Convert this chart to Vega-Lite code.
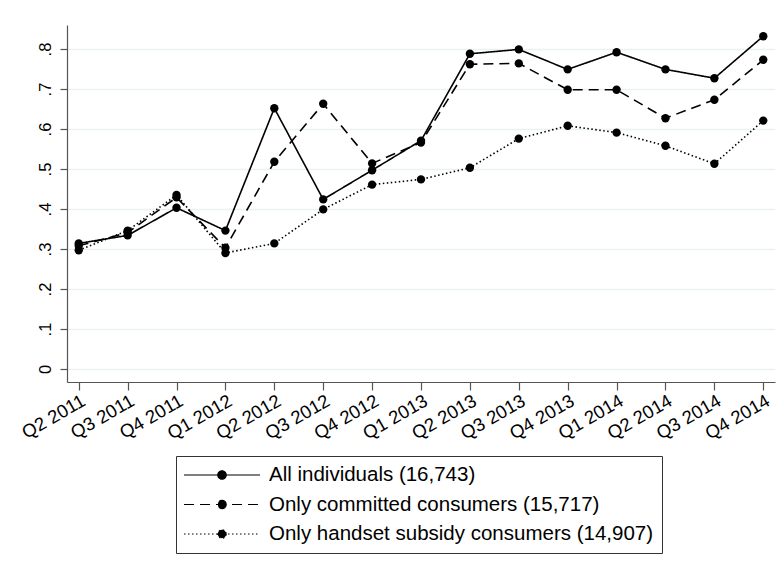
{
  "$schema": "https://vega.github.io/schema/vega-lite/v6.json",
  "autosize": "none",
  "width": 708,
  "height": 357,
  "padding": {"left": 67, "top": 25, "right": 5, "bottom": 191},
  "background": "white",
  "config": {
    "view": {"stroke": null},
    "font": "Liberation Sans"
  },
  "data": {
    "values": [
      {"quarter": "Q2 2011", "series": "All individuals (16,743)", "share": 0.314},
      {"quarter": "Q3 2011", "series": "All individuals (16,743)", "share": 0.334},
      {"quarter": "Q4 2011", "series": "All individuals (16,743)", "share": 0.403},
      {"quarter": "Q1 2012", "series": "All individuals (16,743)", "share": 0.346},
      {"quarter": "Q2 2012", "series": "All individuals (16,743)", "share": 0.652},
      {"quarter": "Q3 2012", "series": "All individuals (16,743)", "share": 0.424},
      {"quarter": "Q4 2012", "series": "All individuals (16,743)", "share": 0.497},
      {"quarter": "Q1 2013", "series": "All individuals (16,743)", "share": 0.571},
      {"quarter": "Q2 2013", "series": "All individuals (16,743)", "share": 0.788},
      {"quarter": "Q3 2013", "series": "All individuals (16,743)", "share": 0.799},
      {"quarter": "Q4 2013", "series": "All individuals (16,743)", "share": 0.749},
      {"quarter": "Q1 2014", "series": "All individuals (16,743)", "share": 0.792},
      {"quarter": "Q2 2014", "series": "All individuals (16,743)", "share": 0.749},
      {"quarter": "Q3 2014", "series": "All individuals (16,743)", "share": 0.727},
      {"quarter": "Q4 2014", "series": "All individuals (16,743)", "share": 0.832},
      {"quarter": "Q2 2011", "series": "Only committed consumers (15,717)", "share": 0.308},
      {"quarter": "Q3 2011", "series": "Only committed consumers (15,717)", "share": 0.341},
      {"quarter": "Q4 2011", "series": "Only committed consumers (15,717)", "share": 0.429},
      {"quarter": "Q1 2012", "series": "Only committed consumers (15,717)", "share": 0.303},
      {"quarter": "Q2 2012", "series": "Only committed consumers (15,717)", "share": 0.518},
      {"quarter": "Q3 2012", "series": "Only committed consumers (15,717)", "share": 0.663},
      {"quarter": "Q4 2012", "series": "Only committed consumers (15,717)", "share": 0.514},
      {"quarter": "Q1 2013", "series": "Only committed consumers (15,717)", "share": 0.566},
      {"quarter": "Q2 2013", "series": "Only committed consumers (15,717)", "share": 0.762},
      {"quarter": "Q3 2013", "series": "Only committed consumers (15,717)", "share": 0.764},
      {"quarter": "Q4 2013", "series": "Only committed consumers (15,717)", "share": 0.698},
      {"quarter": "Q1 2014", "series": "Only committed consumers (15,717)", "share": 0.698},
      {"quarter": "Q2 2014", "series": "Only committed consumers (15,717)", "share": 0.627},
      {"quarter": "Q3 2014", "series": "Only committed consumers (15,717)", "share": 0.673},
      {"quarter": "Q4 2014", "series": "Only committed consumers (15,717)", "share": 0.773},
      {"quarter": "Q2 2011", "series": "Only handset subsidy consumers (14,907)", "share": 0.297},
      {"quarter": "Q3 2011", "series": "Only handset subsidy consumers (14,907)", "share": 0.346},
      {"quarter": "Q4 2011", "series": "Only handset subsidy consumers (14,907)", "share": 0.435},
      {"quarter": "Q1 2012", "series": "Only handset subsidy consumers (14,907)", "share": 0.290},
      {"quarter": "Q2 2012", "series": "Only handset subsidy consumers (14,907)", "share": 0.314},
      {"quarter": "Q3 2012", "series": "Only handset subsidy consumers (14,907)", "share": 0.399},
      {"quarter": "Q4 2012", "series": "Only handset subsidy consumers (14,907)", "share": 0.461},
      {"quarter": "Q1 2013", "series": "Only handset subsidy consumers (14,907)", "share": 0.474},
      {"quarter": "Q2 2013", "series": "Only handset subsidy consumers (14,907)", "share": 0.503},
      {"quarter": "Q3 2013", "series": "Only handset subsidy consumers (14,907)", "share": 0.576},
      {"quarter": "Q4 2013", "series": "Only handset subsidy consumers (14,907)", "share": 0.608},
      {"quarter": "Q1 2014", "series": "Only handset subsidy consumers (14,907)", "share": 0.591},
      {"quarter": "Q2 2014", "series": "Only handset subsidy consumers (14,907)", "share": 0.558},
      {"quarter": "Q3 2014", "series": "Only handset subsidy consumers (14,907)", "share": 0.513},
      {"quarter": "Q4 2014", "series": "Only handset subsidy consumers (14,907)", "share": 0.621}
    ]
  },
  "encoding": {
    "x": {
      "field": "quarter",
      "type": "ordinal",
      "sort": ["Q2 2011","Q3 2011","Q4 2011","Q1 2012","Q2 2012","Q3 2012","Q4 2012","Q1 2013","Q2 2013","Q3 2013","Q4 2013","Q1 2014","Q2 2014","Q3 2014","Q4 2014"],
      "scale": {"type": "point", "padding": 0.24},
      "axis": {
        "title": null,
        "labelAngle": -30,
        "labelAlign": "right",
        "labelBaseline": "top",
        "labelFontSize": 18.5,
        "labelColor": "black",
        "labelPadding": 1,
        "tickSize": 8,
        "tickColor": "#555",
        "domainColor": "#555",
        "domainWidth": 1.2,
        "tickWidth": 1.2,
        "grid": false
      }
    },
    "y": {
      "field": "share",
      "type": "quantitative",
      "scale": {"domain": [-0.0325, 0.86], "nice": false, "zero": false},
      "axis": {
        "title": null,
        "values": [0, 0.1, 0.2, 0.3, 0.4, 0.5, 0.6, 0.7, 0.8],
        "labelExpr": "datum.value == 0 ? '0' : replace(format(datum.value, '.1f'), '0.', '.')",
        "labelAngle": -90,
        "labelAlign": "center",
        "labelBaseline": "bottom",
        "labelFontSize": 16.5,
        "labelColor": "black",
        "labelPadding": 7,
        "tickSize": 7,
        "tickColor": "#555",
        "domainColor": "#555",
        "domainWidth": 1.2,
        "tickWidth": 1.2,
        "grid": true,
        "gridColor": "#eaf2f3",
        "gridWidth": 1.5
      }
    }
  },
  "layer": [
    {
      "mark": {"type": "line", "color": "black", "strokeWidth": 1.6},
      "encoding": {
        "detail": {"field": "series"},
        "strokeDash": {
          "field": "series",
          "type": "nominal",
          "scale": {
            "domain": ["All individuals (16,743)", "Only committed consumers (15,717)", "Only handset subsidy consumers (14,907)"],
            "range": [[1, 0], [10, 6], [1.5, 2.5]]
          },
          "legend": {
            "title": null,
            "orient": "none",
            "legendX": 109,
            "legendY": 431,
            "direction": "vertical",
            "strokeColor": "#333",
            "fillColor": "white",
            "padding": 8,
            "labelFontSize": 20.5,
            "labelColor": "black",
            "symbolOffset": 27,
            "labelOffset": 36,
            "rowPadding": 7.5,
            "symbolType": "M-3.8,0H3.8M0.42,0A0.42,0.42,0,1,1,-0.42,0A0.42,0.42,0,1,1,0.42,0Z",
            "symbolSize": 400,
            "symbolStrokeColor": "black",
            "symbolFillColor": "black",
            "symbolStrokeWidth": 1.2,
            "labelLimit": 600,
            "encode": {"symbols": {"update": {"fill": {"value": "black"}, "stroke": {"value": "black"}}}}
          }
        }
      }
    },
    {
      "mark": {"type": "point", "filled": true, "color": "black", "size": 70, "opacity": 1},
      "encoding": {"detail": {"field": "series"}}
    }
  ]
}
